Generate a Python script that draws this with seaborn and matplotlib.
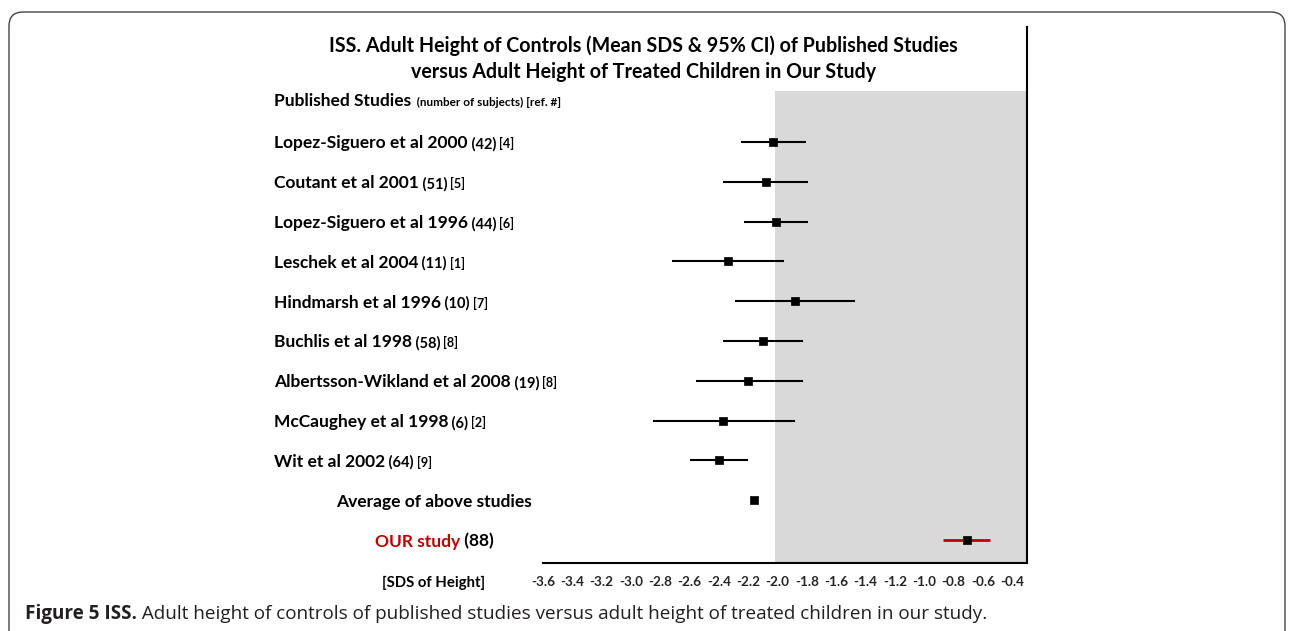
import matplotlib
matplotlib.use("Agg")
import matplotlib.pyplot as plt
import matplotlib.transforms as mtransforms
from matplotlib.patches import FancyBboxPatch
import seaborn as sns
import pandas as pd

# ---------------- data ----------------
studies = ["Lopez-Siguero et al 2000", "Coutant et al 2001", "Lopez-Siguero et al 1996",
           "Leschek et al 2004", "Hindmarsh et al 1996", "Buchlis et al 1998",
           "Albertsson-Wikland et al 2008", "McCaughey et al 1998", "Wit et al 2002"]
subjects = [42, 51, 44, 11, 10, 58, 19, 6, 64]
refs = [4, 5, 6, 1, 7, 8, 8, 2, 9]
study_mean = [-2.03, -2.08, -2.01, -2.34, -1.88, -2.10, -2.20, -2.37, -2.40]
study_lo = [-2.25, -2.37, -2.23, -2.72, -2.29, -2.37, -2.56, -2.85, -2.60]
study_hi = [-1.81, -1.79, -1.79, -1.96, -1.47, -1.83, -1.83, -1.88, -2.20]
avg_label = "Average of above studies"
avg_mean = -2.16
our_label = "OUR study"
our_n = 88
our_mean = -0.71
our_lo = -0.87
our_hi = -0.55
ref_band = [-2.02, -0.3]
xticks = [-3.6, -3.4, -3.2, -3.0, -2.8, -2.6, -2.4, -2.2, -2.0,
          -1.8, -1.6, -1.4, -1.2, -1.0, -0.8, -0.6, -0.4]
title_lines = ["ISS. Adult Height of Controls (Mean SDS & 95% CI) of Published Studies",
               "versus Adult Height of Treated Children in Our Study"]
caption_bold = "Figure 5 ISS."
caption_rest = " Adult height of controls of published studies versus adult height of treated children in our study."

# ---------------- frame ----------------
sns.set_style("white")
FONT = ["Lato", "DejaVu Sans"]
plt.rcParams["font.family"] = FONT

W, H = 1292, 631
fig = plt.figure(figsize=(W / 100, H / 100), dpi=100)
fig.patch.set_facecolor("white")

ax_left, ax_right, ax_bot, ax_top = 543, 1027, 563, 27
ax = fig.add_axes([ax_left / W, 1 - ax_bot / H, (ax_right - ax_left) / W, (ax_bot - ax_top) / H])

row0, dy = 142, 39.8
def row_of(px):
    return (px - row0) / dy

n = len(studies)
rows = list(range(n)) + [n, n + 1]
df = pd.DataFrame({
    "label": studies + [avg_label, our_label],
    "mean": study_mean + [avg_mean, our_mean],
    "lo": study_lo + [float("nan"), our_lo],
    "hi": study_hi + [float("nan"), our_hi],
    "group": ["study"] * n + ["avg", "ours"],
    "pos": rows,
})

ax.set_xlim(-3.6, -0.3)
ax.set_ylim(row_of(ax_bot), row_of(ax_top))

# grey reference band
ax.fill_betweenx([row_of(91), row_of(ax_bot)], ref_band[0], ref_band[1],
                 color="#D9D9D9", lw=0, zorder=0)

# CI lines
ci = df.dropna(subset=["lo"])
colors = ["#C00000" if g == "ours" else "black" for g in ci["group"]]
widths = [2.0 if g == "ours" else 1.5 for g in ci["group"]]
ax.hlines(ci["pos"], ci["lo"], ci["hi"], colors=colors, lw=widths, zorder=2)

sns.scatterplot(data=df, x="mean", y="pos", marker="s", color="black",
                edgecolor="black", linewidth=0.5, s=30, ax=ax, zorder=3, legend=False)
ax.set_xlabel("")
ax.set_ylabel("")
ax.set_yticks([])
ax.set_xticks(xticks)
ax.set_xticklabels([f"{t:.1f}" for t in xticks], fontsize=9.7, fontweight="bold")
ax.tick_params(axis="x", direction="out", length=3.5, width=1.4, pad=6, color="black")
for s in ["left", "top"]:
    ax.spines[s].set_visible(False)
for s in ["bottom", "right"]:
    ax.spines[s].set_visible(True)
    ax.spines[s].set_color("black")
    ax.spines[s].set_linewidth(1.5)
ax.patch.set_alpha(0)

# ---------------- text helpers ----------------
pxT = mtransforms.Affine2D().scale(1, -1).translate(0, H)
renderer = fig.canvas.get_renderer()

def run(pieces, x, y, trans, align="left", family=None):
    texts, widths_ = [], []
    for s, size, color, weight in pieces:
        kw = {} if family is None else {"family": family}
        t = fig.text(0, y, s, transform=trans, fontsize=size, color=color,
                     fontweight=weight, va="baseline", ha="left", **kw)
        texts.append(t)
        widths_.append(t.get_window_extent(renderer).width)
    total = sum(widths_)
    cur = x if align == "left" else x - total / 2
    for t, w in zip(texts, widths_):
        t.set_x(cur)
        cur += w
    return texts

rowT = mtransforms.offset_copy(mtransforms.blended_transform_factory(pxT, ax.transData),
                               fig=fig, y=-6.5, units="dots")

LBL, NUM, REF = 12.5, 10.5, 9
for i in range(n):
    run([(studies[i], LBL, "black", "bold"),
         (f" ({subjects[i]})", NUM, "black", "bold"),
         (f" [{refs[i]}]", REF, "black", "bold")], 274, i, rowT)

run([(avg_label, LBL, "black", "bold")], 434, n, rowT, align="center")
run([(our_label, LBL, "#C00000", "bold"), (f" ({our_n})", LBL, "black", "bold")],
    434, n + 1, rowT, align="center")

run([("Published Studies", LBL, "black", "bold"),
     ("  (number of subjects) [ref. #]", 8.5, "black", "bold")], 274, 106, pxT)

run([(title_lines[0], 14.1, "black", "bold")], 643.5, 52, pxT, align="center")
run([(title_lines[1], 14.1, "black", "bold")], 643.5, 78, pxT, align="center")

run([("[SDS of Height]", 10.7, "black", "bold")], 434, 587, pxT, align="center")

# caption
CAP = ["Open Sans", "DejaVu Sans"]
run([(caption_bold, 13.6, "#231F20", "bold"), (caption_rest, 13.6, "#231F20", "normal")],
    25, 619, pxT, family=CAP)

# outer rounded frame
box = FancyBboxPatch((9, 12), 1276, 640, boxstyle="round,pad=0,rounding_size=14",
                     transform=pxT, fill=False, ec="#444444", lw=1.0)
fig.patches.append(box)

fig.savefig("out.png", dpi=100)
